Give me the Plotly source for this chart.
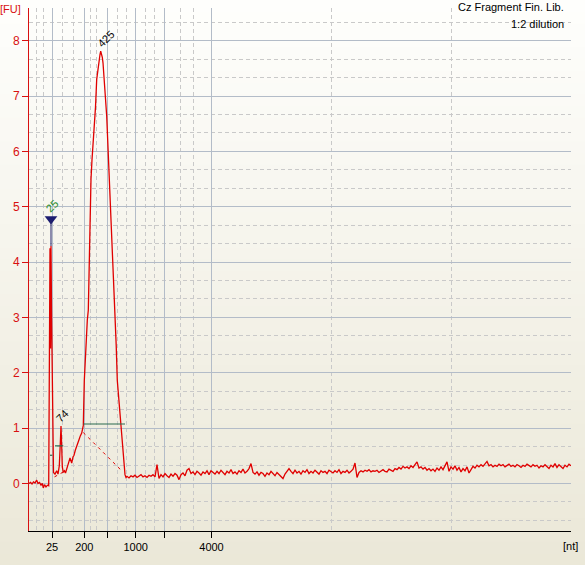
import numpy as np
import plotly.graph_objects as go

#--- ladder sizes (nt) and their migration times (s)
ladder_nt = [25, 200, 500, 1000, 2000, 4000]
ladder_time = [20.3, 23.53, 25.87, 28.67, 31.53, 36.25]
ladder_label = ['25', '200', '', '1000', '', '4000']
minor_time = [18.77, 19.43, 21.37, 22.43, 24.17, 24.77, 26.8, 27.73,
              29.67, 30.5, 33.1, 34.43, 48.25, 60.25, 72.2]

#--- electropherogram: lower marker + peaks
peak_time = [18.0, 18.15, 18.3, 18.45, 18.6, 18.77, 18.9, 19.05, 19.2, 19.33,
             19.43, 19.55, 19.7, 19.85, 19.97,
             20.03, 20.1, 20.15, 20.2, 20.26, 20.31, 20.38, 20.45,
             20.6, 20.77, 20.9, 21.03, 21.13, 21.2, 21.27, 21.33, 21.43, 21.55,
             21.65, 21.77, 21.9, 22.0, 22.1, 22.27, 22.4, 22.5, 22.63, 22.77,
             22.9, 23.0, 23.13, 23.27, 23.35, 23.43,
             23.53, 23.63, 23.73, 23.83, 23.93, 24.0, 24.1, 24.2, 24.3, 24.4,
             24.53, 24.65, 24.77, 24.9, 25.0, 25.1, 25.17, 25.25, 25.33, 25.4,
             25.53, 25.65, 25.77, 25.85, 25.93, 26.03, 26.13, 26.25, 26.37, 26.48,
             26.6, 26.72, 26.83, 26.97, 27.1, 27.2, 27.37, 27.5, 27.6, 27.7]
peak_fu = [0.0, 0.02, -0.01, 0.03, 0.01, 0.06, 0.0, 0.02, -0.03, 0.0,
           -0.08, -0.02, -0.06, -0.03, -0.04,
           1.8, 4.25, 2.44, 4.29, 3.0, 1.9, 0.6, 0.2,
           0.17, 0.23, 0.17, 0.32, 0.72, 1.04, 0.68, 0.3, 0.2, 0.23,
           0.19, 0.25, 0.33, 0.4, 0.46, 0.37, 0.48, 0.51, 0.6, 0.66,
           0.72, 0.79, 0.86, 0.91, 0.98, 1.05,
           1.86, 2.3, 2.7, 2.95, 3.13, 3.9, 4.9, 5.5, 5.85, 6.12,
           6.33, 6.8, 7.3, 7.52, 7.65, 7.75, 7.81, 7.77, 7.7, 7.6,
           7.33, 6.95, 6.64, 6.3, 6.0, 5.5, 5.1, 4.65, 4.2, 3.65,
           3.13, 2.5, 1.86, 1.55, 1.27, 1.0, 0.66, 0.3, 0.16, 0.11]

#--- electropherogram: background tail, sampled every 0.2 s
tail_start = 27.8
tail_step = 0.2
tail_fu = [0.13, 0.10, 0.14, 0.12, 0.15, 0.11, 0.13, 0.16, 0.12, 0.14,
           0.11, 0.15, 0.13, 0.16, 0.12, 0.34, 0.09, 0.16, 0.12, 0.18,
           0.14, 0.11, 0.17, 0.13, 0.18, 0.15, 0.07, 0.16, 0.19, 0.14,
           0.24, 0.27, 0.18, 0.21, 0.16, 0.22, 0.19, 0.15, 0.21, 0.18,
           0.23, 0.16, 0.23, 0.19, 0.17, 0.22, 0.18, 0.24, 0.20, 0.16,
           0.22, 0.19, 0.25, 0.18, 0.21, 0.17, 0.23, 0.20, 0.26, 0.19,
           0.22, 0.27, 0.36, 0.20, 0.17, 0.21, 0.15, 0.20, 0.18, 0.13,
           0.19, 0.16, 0.22, 0.17, 0.14, 0.20, 0.16, 0.12, 0.09, 0.17,
           0.21, 0.27, 0.22, 0.18, 0.24, 0.19, 0.22, 0.17, 0.23, 0.20,
           0.25, 0.18, 0.22, 0.19, 0.24, 0.21, 0.17, 0.23, 0.20, 0.22,
           0.18, 0.24, 0.21, 0.19, 0.23, 0.20, 0.25, 0.18, 0.22, 0.20,
           0.24, 0.19, 0.22, 0.26, 0.37, 0.11, 0.20, 0.23, 0.21, 0.24,
           0.22, 0.25, 0.21, 0.23, 0.22, 0.24, 0.20, 0.23, 0.25, 0.22,
           0.21, 0.26, 0.24, 0.22, 0.27, 0.25, 0.29, 0.26, 0.31, 0.28,
           0.30, 0.27, 0.32, 0.29, 0.34, 0.39, 0.28, 0.30, 0.26, 0.29,
           0.24, 0.27, 0.23, 0.26, 0.22, 0.28, 0.24, 0.30, 0.25, 0.33,
           0.39, 0.22, 0.30, 0.26, 0.32, 0.24, 0.29, 0.21, 0.27, 0.23,
           0.30, 0.19, 0.26, 0.31, 0.28, 0.33, 0.30, 0.34, 0.31, 0.35,
           0.40, 0.32, 0.34, 0.30, 0.33, 0.31, 0.35, 0.32, 0.34, 0.30,
           0.33, 0.35, 0.31, 0.33, 0.30, 0.34, 0.32, 0.29, 0.33, 0.31,
           0.35, 0.32, 0.30, 0.34, 0.31, 0.33, 0.28, 0.32, 0.30, 0.34,
           0.31, 0.27, 0.33, 0.30, 0.36, 0.29, 0.34, 0.31, 0.27, 0.33,
           0.30, 0.35, 0.32]

#--- called peaks: label, time, height
peak_names = ['25', '74', '425']
peak_tops_t = [20.2, 21.2, 25.17]
peak_tops_fu = [4.29, 1.04, 7.81]
marker_fu = 4.78
#--- peak width bars (t0, t1, level) and baselines (t0, fu0, t1, fu1)
width_bars = [(20.1, 20.33, 0.51), (20.6, 21.43, 0.68), (23.43, 27.6, 1.075)]
base_lines = [(20.55, 0.12, 21.45, 0.21), (23.43, 0.92, 27.27, 0.23)]

W, H = 585, 565
ML, MR, MT, MB = 29, 14, 8, 34
FONT = 'Liberation Sans'
RED = '#d81010'

tail_time = tail_start + tail_step*np.arange(len(tail_fu))
t_all = np.concatenate([peak_time, tail_time])
fu_all = np.concatenate([peak_fu, tail_fu])

fig = go.Figure()

#--- background gradient (white -> XP beige)
plot_h = H - MT - MB
y_lo = -MB/plot_h
y_hi = 1 + MT/plot_h
c_top = np.array([254, 254, 252])
c_bot = np.array([235, 232, 216])
nb = 48
for i in range(nb):
  f = i/(nb-1)
  c = (c_top*(1-f) + c_bot*f).round().astype(int)
  y1 = y_hi - (y_hi-y_lo)*i/nb
  y0 = y_hi - (y_hi-y_lo)*(i+1)/nb
  fig.add_shape(type='rect', xref='paper', yref='paper', x0=-0.1, x1=1.1, y0=y0-0.002, y1=y1,
                fillcolor='rgb({},{},{})'.format(*c), line=dict(width=0), layer='below')

#--- trace
fig.add_trace(go.Scatter(x=t_all, y=fu_all, mode='lines', line=dict(color='#e00000', width=1.3),
                         showlegend=False, hoverinfo='skip'))

#--- peak widths and baselines
for t0, t1, lv in width_bars:
  fig.add_shape(type='line', x0=t0, x1=t1, y0=lv, y1=lv, line=dict(color='#2a6b4e', width=1.2))
for t0, v0, t1, v1 in base_lines:
  fig.add_shape(type='line', x0=t0, x1=t1, y0=v0, y1=v1, line=dict(color='#e00000', width=1, dash='3px,4px'))

#--- lower marker
fig.add_shape(type='line', x0=peak_tops_t[0], x1=peak_tops_t[0], y0=peak_tops_fu[0], y1=marker_fu,
              line=dict(color='#20206a', width=1))
fig.add_trace(go.Scatter(x=[peak_tops_t[0]], y=[marker_fu], mode='markers',
                         marker=dict(symbol='triangle-down', size=11, color='#1c1c70'),
                         showlegend=False, hoverinfo='skip'))

#--- peak labels
label_shift = [(1, 40, '#1f8a1f'), (1, 10, 'black'), (5, 12, 'black')]
for name, t, v, (dx, dy, col) in zip(peak_names, peak_tops_t, peak_tops_fu, label_shift):
  fig.add_annotation(x=t, y=v, text=name, showarrow=False, textangle=-45, xshift=dx, yshift=dy,
                     font=dict(family=FONT, size=11, color=col))

#--- texts
fig.add_annotation(xref='paper', yref='paper', x=(566-ML)/(W-ML-MR), y=1 + (MT-7)/plot_h,
                   xanchor='right', yanchor='middle', showarrow=False,
                   text='Cz Fragment Fin. Lib.', font=dict(family=FONT, size=11, color='black'))
fig.add_annotation(xref='paper', yref='paper', x=(566-ML)/(W-ML-MR), y=1 + (MT-24.5)/plot_h,
                   xanchor='right', yanchor='middle', showarrow=False,
                   text='1:2 dilution', font=dict(family=FONT, size=11, color='black'))
fig.add_annotation(xref='paper', yref='paper', x=(10-ML)/(W-ML-MR), y=1 + (MT-9.5)/plot_h,
                   xanchor='center', yanchor='middle', showarrow=False,
                   text='[FU]', font=dict(family=FONT, size=11, color=RED))
fig.add_annotation(xref='paper', yref='paper', x=(570.5-ML)/(W-ML-MR), y=1 + (MT-546)/plot_h,
                   xanchor='center', yanchor='middle', showarrow=False,
                   text='[nt]', font=dict(family=FONT, size=11, color='black'))

fig.update_layout(
  width=W, height=H, margin=dict(l=ML, r=MR, t=MT, b=MB),
  paper_bgcolor='white', plot_bgcolor='rgba(0,0,0,0)',
  font=dict(family=FONT, size=11),
  xaxis=dict(range=[18.0, 72.2], tickmode='array', tickvals=ladder_time, ticktext=ladder_label,
             ticks='outside', ticklen=6, tickcolor='black', tickfont=dict(color='black', size=11),
             showline=True, linecolor='black', linewidth=1, zeroline=False, automargin=False,
             showgrid=True, gridcolor='#b3bcc8', gridwidth=1,
             minor=dict(tickmode='array', tickvals=minor_time, showgrid=True, gridcolor='#c9c9c9',
                        griddash='4px,3px', gridwidth=1)),
  yaxis=dict(range=[-0.858, 8.59], tickmode='array', tickvals=list(range(9)),
             ticks='outside', ticklen=6, tickcolor=RED, tickfont=dict(color=RED, size=12),
             showline=True, linecolor=RED, linewidth=1, zeroline=False, automargin=False,
             showgrid=True, gridcolor='#b3bcc8', gridwidth=1,
             minor=dict(dtick=1/3, tick0=0, showgrid=True, gridcolor='#c9c9c9',
                        griddash='4px,3px', gridwidth=1)),
)

fig.write_html('out.html', config={'displayModeBar': False},
               post_script="document.body.style.margin='0';")
